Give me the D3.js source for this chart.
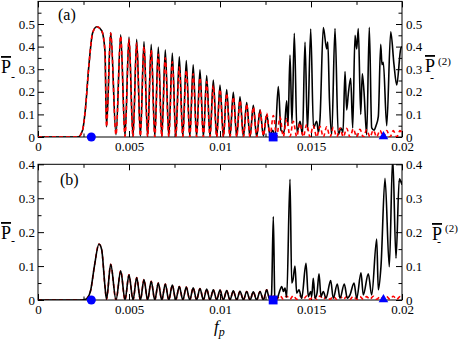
<!DOCTYPE html>
<html>
<head>
<meta charset="utf-8">
<script src="https://cdn.jsdelivr.net/npm/d3@7"></script>
<style>
  body { margin: 0; background: #fff; }
  svg { display: block; }
  svg text { font-family: "Liberation Serif", "DejaVu Serif", serif; }
</style>
</head>
<body>
<script>
// ---- axis ticks ----
const xTicks = [0, 0.005, 0.01, 0.015, 0.02]
const xTickLabels = ['0', '0.005', '0.01', '0.015', '0.02']
const xMinor = [0.0025, 0.0075, 0.0125, 0.0175]
const yTicksA = [0, 0.1, 0.2, 0.3, 0.4, 0.5]
const yLabelsA = ['0', '0.1', '0.2', '0.3', '0.4', '0.5']
const yMinorA = [0.05, 0.15, 0.25, 0.35, 0.45, 0.55]
const yTicksB = [0, 0.1, 0.2, 0.3, 0.4]
const yLabelsB = ['0', '0.1', '0.2', '0.3', '0.4']
const yMinorB = [0.05, 0.15, 0.25, 0.35]

// ---- panel (a) : fringe region, black and red share the f grid ----
const fA = [0, 0.0022, 0.00245, 0.0026, 0.0028, 0.003, 0.003225, 0.0035, 0.00368, 0.003764,
  0.003995, 0.004286, 0.004544, 0.00478, 0.005, 0.00522, 0.005423, 0.005626, 0.005824, 0.006022,
  0.00622, 0.006418, 0.00661, 0.006802, 0.006995, 0.007187, 0.00738, 0.007571, 0.007764, 0.007956,
  0.008148, 0.008341, 0.008527, 0.008714, 0.0089, 0.009088, 0.009269, 0.00945, 0.009632, 0.009819,
  0.01, 0.010187, 0.010368, 0.010549, 0.010731, 0.010918, 0.011099, 0.011286, 0.011467, 0.011648,
  0.01183, 0.012016, 0.012198, 0.012385, 0.012566]
const blackA = [0, 0, 0.03, 0.12, 0.32, 0.46, 0.488, 0.47, 0.38, 0.045,
  0.462, 0.01, 0.452, 0.003, 0.442, 0, 0.432, 0.004, 0.422, 0,
  0.41, 0, 0.398, 0.002, 0.386, 0, 0.372, 0, 0.356, 0,
  0.338, 0, 0.32, 0, 0.297, 0, 0.272, 0, 0.252, 0,
  0.23, 0, 0.21, 0, 0.198, 0, 0.178, 0, 0.152, 0,
  0.14, 0, 0.12, 0.005, 0.098]
const redA = [0, 0, 0.03, 0.12, 0.32, 0.46, 0.488, 0.47, 0.38, 0.045,
  0.46, 0.01, 0.447, 0.003, 0.432, 0, 0.416, 0.004, 0.4, 0,
  0.384, 0, 0.366, 0.002, 0.35, 0, 0.333, 0, 0.31, 0,
  0.295, 0, 0.28, 0, 0.262, 0, 0.245, 0, 0.228, 0,
  0.21, 0, 0.193, 0, 0.177, 0, 0.162, 0, 0.146, 0,
  0.132, 0, 0.118, 0.005, 0.105]

// panel (a) black, irregular part
const fBlackTailA = [0.012747, 0.012896, 0.013022, 0.013203, 0.013352, 0.013516, 0.013665, 0.013736,
  0.013846, 0.013956, 0.014082, 0.014231, 0.014396, 0.014533, 0.01467, 0.014808, 0.014984, 0.015137,
  0.015313, 0.015412, 0.015495, 0.015676, 0.015863, 0.015923, 0.016016, 0.016137, 0.016319, 0.0165,
  0.016648, 0.016758, 0.016868, 0.016962, 0.017049, 0.017181, 0.017291, 0.017418, 0.017511, 0.017599,
  0.017731, 0.017819, 0.017912, 0.01806, 0.018203, 0.018335, 0.018462, 0.018571, 0.018698, 0.01883,
  0.018901, 0.018973, 0.01916, 0.01938, 0.01956, 0.019709, 0.019929, 0.02]
const blackTailA = [0.01, 0.03, 0, 0.223, 0.03, 0.02, 0.16, 0.05,
  0.363, 0.06, 0.459, 0.02, 0.07, 0.01, 0.42, 0.03, 0.478, 0.04,
  0.07, 0.02, 0.08, 0.484, 0.39, 0.42, 0.16, 0.01, 0.48, 0.01,
  0.04, 0.02, 0.29, 0.12, 0.19, 0.26, 0.04, 0.45, 0.39, 0.48,
  0.1, 0.28, 0.2, 0.01, 0.485, 0.04, 0.03, 0.05, 0.09, 0.41,
  0.32, 0.33, 0.05, 0.466, 0.32, 0.23, 0.39, 0.4]

// red tails (both panels share the grid)
const fRedTail = [0.012747, 0.012929, 0.013115, 0.013297, 0.013478, 0.013665, 0.013846, 0.014027,
  0.014214, 0.014396, 0.014577, 0.014764, 0.014945, 0.015126, 0.015313, 0.015495, 0.015676, 0.015863,
  0.016044, 0.016225, 0.016412, 0.016593, 0.016775, 0.016962, 0.017143, 0.017324, 0.017511, 0.017692,
  0.017874, 0.01806, 0.018242, 0.018423, 0.01861, 0.018791, 0.018973, 0.01916, 0.019341, 0.019522,
  0.019709, 0.01989, 0.02]
const redTailA = [0.004, 0.095, 0.003, 0.088, 0.002, 0.08, 0.002, 0.07,
  0.001, 0.062, 0.001, 0.055, 0.001, 0.05, 0, 0.047, 0, 0.045,
  0, 0.042, 0, 0.04, 0, 0.038, 0, 0.036, 0, 0.034,
  0, 0.032, 0, 0.03, 0, 0.03, 0, 0.029, 0, 0.028,
  0, 0.028, 0.015]
const redTailB = [0.002, 0.012, 0.002, 0.013, 0.002, 0.012, 0.002, 0.013,
  0.002, 0.012, 0.002, 0.012, 0.002, 0.011, 0.002, 0.012, 0.002, 0.011,
  0.002, 0.011, 0.002, 0.011, 0.002, 0.01, 0.002, 0.011, 0.002, 0.01,
  0.002, 0.01, 0.002, 0.011, 0.002, 0.01, 0.002, 0.01, 0.002, 0.011,
  0.002, 0.01, 0.005]

// ---- panel (b) ----
const fB = [0, 0.0024, 0.0026, 0.0027, 0.0029, 0.0031, 0.00335, 0.0035, 0.00368, 0.003764,
  0.003995, 0.004286, 0.004544, 0.00478, 0.005, 0.00522, 0.005423, 0.005626, 0.005824, 0.006022,
  0.00622, 0.006418, 0.00661, 0.006802, 0.006995, 0.007187, 0.00738, 0.007571, 0.007764, 0.007956,
  0.008148, 0.008341, 0.008527, 0.008714, 0.0089, 0.009088, 0.009269, 0.00945, 0.009632, 0.009819,
  0.01, 0.010187, 0.010368, 0.010549, 0.010731, 0.010918, 0.011099, 0.011286, 0.011467, 0.011648,
  0.01183, 0.012016, 0.012198, 0.012385, 0.012566]
const blackB = [0, 0, 0.002, 0.005, 0.03, 0.1, 0.165, 0.148, 0.04, 0.002,
  0.105, 0, 0.086, 0, 0.074, 0, 0.066, 0, 0.06, 0,
  0.055, 0, 0.05, 0, 0.047, 0, 0.044, 0, 0.04, 0,
  0.038, 0, 0.036, 0, 0.034, 0, 0.032, 0, 0.03, 0,
  0.029, 0, 0.028, 0, 0.027, 0, 0.026, 0, 0.025, 0,
  0.024, 0, 0.025, 0, 0.03]
const fBlackTailB = [0.01272, 0.01283, 0.012929, 0.013011, 0.013132, 0.013242, 0.01339, 0.013489,
  0.013571, 0.013665, 0.013846, 0.01394, 0.014011, 0.014121, 0.014214, 0.014341, 0.014489, 0.014725,
  0.014852, 0.014984, 0.015038, 0.015126, 0.01522, 0.01533, 0.01544, 0.01555, 0.015676, 0.015824,
  0.016082, 0.016225, 0.016445, 0.016593, 0.01683, 0.016995, 0.017143, 0.017363, 0.017511, 0.017747,
  0.017874, 0.018148, 0.018335, 0.01861, 0.018698, 0.018846, 0.019066, 0.019302, 0.019489, 0.01967,
  0.019852, 0.02]
const blackTailB = [0.003, 0.015, 0.246, 0.01, 0.004, 0.02, 0.04, 0.025,
  0.035, 0.008, 0.356, 0.05, 0.06, 0.1, 0.02, 0.03, 0.005, 0.108,
  0.01, 0.025, 0.01, 0.064, 0.005, 0.02, 0.077, 0.01, 0.025, 0.005,
  0.057, 0.005, 0.047, 0.005, 0.047, 0.005, 0.015, 0.05, 0.005, 0.08,
  0.015, 0.077, 0.015, 0.18, 0.03, 0.1, 0.359, 0.098, 0.42, 0.123,
  0.357, 0.34]

// markers on the f axis
const fCircle = 0.00293
const fSquare = 0.01292
const fTriangle = 0.01898

// ---- drawing ----
const svg = d3.select('body').append('svg').attr('width', 460).attr('height', 340)

const x = d3.scaleLinear().domain([0, 0.02]).range([38, 402])
const yA = d3.scaleLinear().domain([0, 0.6]).range([137, 1.4])
const yB = d3.scaleLinear().domain([0, 0.4]).range([300, 164.3])

function styleAxis(g) {
  g.select('.domain').remove()
  g.attr('font-family', null).attr('font-size', 13)
  g.selectAll('line').attr('stroke', '#000')
}

function panel(name, y, yTicks, yLabels, yMinor, black, red, redOnTop) {
  const bottom = y.range()[0], top = y.range()[1]
  const g = svg.append('g')

  svg.append('clipPath').attr('id', 'clip-' + name)
    .append('rect').attr('x', 38).attr('y', top).attr('width', 364).attr('height', bottom - top)

  g.append('g').attr('transform', 'translate(0,' + bottom + ')')
    .call(d3.axisBottom(x).tickValues(xTicks).tickFormat((d, i) => xTickLabels[i]).tickSize(-6).tickPadding(5))
    .call(styleAxis)
  g.append('g').attr('transform', 'translate(0,' + bottom + ')')
    .call(d3.axisBottom(x).tickValues(xMinor).tickFormat('').tickSize(-3.5))
    .call(styleAxis)
  g.append('g').attr('transform', 'translate(0,' + top + ')')
    .call(d3.axisTop(x).tickValues(xTicks).tickFormat('').tickSize(-6))
    .call(styleAxis)
  g.append('g').attr('transform', 'translate(0,' + top + ')')
    .call(d3.axisTop(x).tickValues(xMinor).tickFormat('').tickSize(-3.5))
    .call(styleAxis)

  g.append('g').attr('transform', 'translate(38,0)')
    .call(d3.axisLeft(y).tickValues(yTicks).tickFormat((d, i) => yLabels[i]).tickSize(-6).tickPadding(3))
    .call(styleAxis)
  g.append('g').attr('transform', 'translate(38,0)')
    .call(d3.axisLeft(y).tickValues(yMinor).tickFormat('').tickSize(-3.5))
    .call(styleAxis)
  g.append('g').attr('transform', 'translate(402,0)')
    .call(d3.axisRight(y).tickValues(yTicks).tickFormat((d, i) => yLabels[i]).tickSize(-6).tickPadding(4))
    .call(styleAxis)
  g.append('g').attr('transform', 'translate(402,0)')
    .call(d3.axisRight(y).tickValues(yMinor).tickFormat('').tickSize(-3.5))
    .call(styleAxis)

  g.append('rect')
    .attr('x', 38).attr('y', top).attr('width', 364).attr('height', bottom - top)
    .attr('fill', 'none').attr('stroke', '#000').attr('stroke-width', 1)

  const line = d3.line()
    .x(d => x(d[0]))
    .y(d => y(d[1]))
    .curve(d3.curveMonotoneX)

  const lines = g.append('g').attr('clip-path', 'url(#clip-' + name + ')')
  const drawBlack = () => lines.append('path').datum(black).attr('d', line)
    .attr('fill', 'none').attr('stroke', '#000').attr('stroke-width', 1.6).attr('stroke-linejoin', 'round')
  const drawRed = () => lines.append('path').datum(red).attr('d', line)
    .attr('fill', 'none').attr('stroke', '#ff0000').attr('stroke-width', 1.6).attr('stroke-dasharray', '4,3')
  if (redOnTop) { drawBlack(); drawRed() } else { drawRed(); drawBlack() }

  g.append('circle').attr('cx', x(fCircle)).attr('cy', y(0)).attr('r', 4.5).attr('fill', '#0000ff')
  g.append('path').attr('d', d3.symbol(d3.symbolSquare, 78)())
    .attr('transform', 'translate(' + x(fSquare) + ',' + y(0) + ')').attr('fill', '#0000ff')
  g.append('path').attr('d', d3.symbol(d3.symbolTriangle, 40)())
    .attr('transform', 'translate(' + x(fTriangle) + ',' + (y(0) - 0.5) + ')').attr('fill', '#0000ff')
  return g
}

const seriesBlackA = d3.zip(fA, blackA).concat(d3.zip(fBlackTailA, blackTailA))
const seriesRedA = d3.zip(fA, redA).concat(d3.zip(fRedTail, redTailA))
const seriesBlackB = d3.zip(fB, blackB).concat(d3.zip(fBlackTailB, blackTailB))
const seriesRedB = d3.zip(fB, blackB).concat(d3.zip(fRedTail, redTailB))

panel('a', yA, yTicksA, yLabelsA, yMinorA, seriesBlackA, seriesRedA, true)
panel('b', yB, yTicksB, yLabelsB, yMinorB, seriesBlackB, seriesRedB, false)

// panel letters
svg.append('text').attr('x', 58).attr('y', 20).attr('font-size', 16).text('(a)')
svg.append('text').attr('x', 60).attr('y', 185).attr('font-size', 16).text('(b)')

// left titles
function leftTitle(xp, base, dySub) {
  const t = svg.append('text').attr('x', xp).attr('y', base).attr('font-size', 18)
  t.append('tspan').style('text-decoration', 'overline').text('P')
  t.append('tspan').attr('font-size', 12).attr('dy', dySub).text('-')
}
leftTitle(1, 73, 8)
leftTitle(1, 239, 6)

// right titles
function rightTitle(xp, base, supBase, subBase) {
  svg.append('text').attr('x', xp).attr('y', base).attr('font-size', 18)
    .append('tspan').style('text-decoration', 'overline').text('P')
  svg.append('text').attr('x', xp + 13).attr('y', supBase).attr('font-size', 11).text('(2)')
  svg.append('text').attr('x', xp + 5).attr('y', subBase).attr('font-size', 12).text('-')
}
rightTitle(425, 72, 65, 82)
rightTitle(432, 240, 232, 246)

// x title
const xt = svg.append('text').attr('x', 214).attr('y', 332).attr('font-size', 17).attr('font-style', 'italic')
xt.append('tspan').text('f')
xt.append('tspan').attr('font-size', 12).attr('dy', 3.5).text('p')
</script>
</body>
</html>
